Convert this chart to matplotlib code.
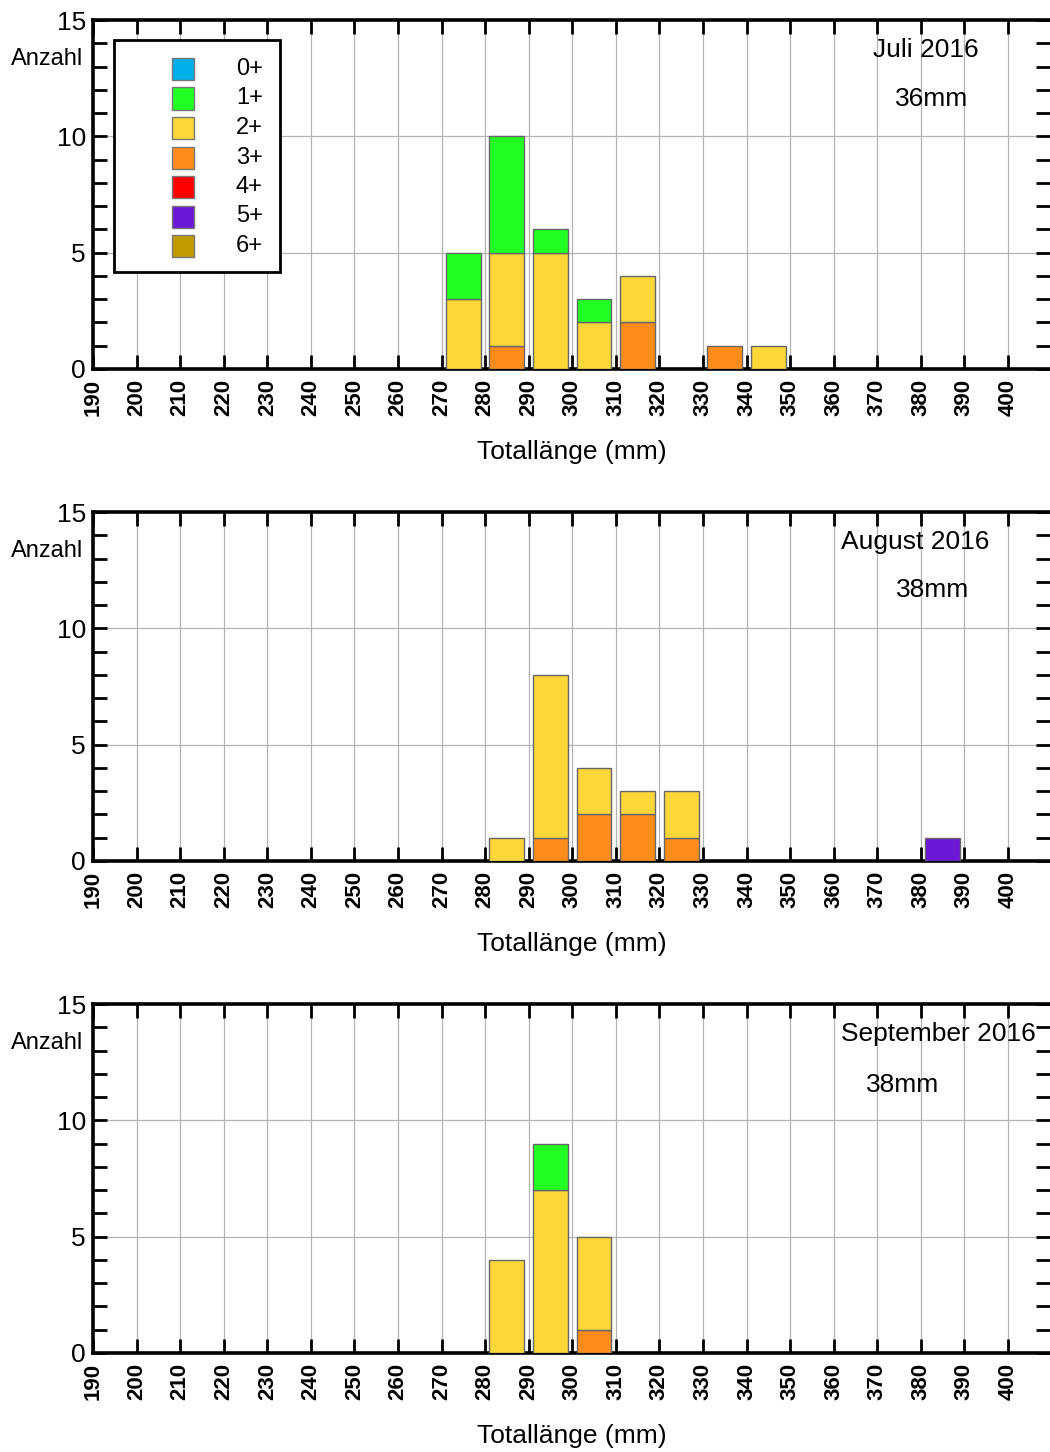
import matplotlib
matplotlib.use("Agg")
import matplotlib.pyplot as plt
from matplotlib.patches import Rectangle
import numpy as np

plt.rcParams['font.family'] = ['Liberation Sans', 'DejaVu Sans']

# Altersklassen und Farben
classes = ["0+", "1+", "2+", "3+", "4+", "5+", "6+"]
colors = ["#00aee8", "#22ff22", "#fdd73a", "#ff8c1a", "#ff0000", "#6a18d6", "#bf9a00"]

# Längenklassen (Klassenmitte, mm)
bins = [275, 285, 295, 305, 315, 325, 335, 345, 355, 365, 375, 385]

# Anzahl je Längenklasse und Altersklasse
juli = {
    "1+": [2, 5, 1, 1, 0, 0, 0, 0, 0, 0, 0, 0],
    "2+": [3, 4, 5, 2, 2, 0, 0, 1, 0, 0, 0, 0],
    "3+": [0, 1, 0, 0, 2, 0, 1, 0, 0, 0, 0, 0],
}
august = {
    "2+": [0, 1, 7, 2, 1, 2, 0, 0, 0, 0, 0, 0],
    "3+": [0, 0, 1, 2, 2, 1, 0, 0, 0, 0, 0, 0],
    "5+": [0, 0, 0, 0, 0, 0, 0, 0, 0, 0, 0, 1],
}
september = {
    "1+": [0, 0, 2, 0, 0, 0, 0, 0, 0, 0, 0, 0],
    "2+": [0, 4, 7, 4, 0, 0, 0, 0, 0, 0, 0, 0],
    "3+": [0, 0, 0, 1, 0, 0, 0, 0, 0, 0, 0, 0],
}

panels = [
    (juli, "Juli 2016", "36mm", (926, 50), (932, 99)),
    (august, "August 2016", "38mm", (915, 542), (933, 590)),
    (september, "September 2016", "38mm", (938, 1034), (903, 1085)),
]

W, H = 1050, 1452
fig = plt.figure(figsize=(W / 100, H / 100), dpi=100)

left_px, right_px = 93, 1050
ax_h = 349
tops = [20, 512, 1004]


def px2ax(ax_top, x, y):
    return (x - left_px) / (right_px - left_px), (ax_top + ax_h - y) / ax_h


for k, (data, month, mesh, mpos, spos) in enumerate(panels):
    top = tops[k]
    ax = fig.add_axes([left_px / W, (H - top - ax_h) / H,
                       (right_px - left_px) / W, ax_h / H])

    # gestapelte Balken, älteste Klasse unten
    bottom = np.zeros(len(bins))
    for cls, col in reversed(list(zip(classes, colors))):
        if cls not in data:
            continue
        vals = np.array(data[cls], dtype=float)
        mask = vals > 0
        ax.bar(np.array(bins)[mask], vals[mask], width=8, bottom=bottom[mask],
               color=col, edgecolor="#666666", linewidth=1, zorder=3)
        bottom += vals

    ax.set_xlim(190, 190 + (right_px - left_px) / 4.357)
    ax.set_ylim(0, 15)
    ax.set_xticks(np.arange(190, 401, 10))
    ax.set_xticklabels([str(v) for v in range(190, 401, 10)],
                       rotation=90, fontweight="bold", fontsize=16)
    ax.set_yticks([0, 5, 10, 15])
    ax.set_yticks(np.arange(0, 16, 1), minor=True)
    ax.tick_params(axis="y", labelsize=19, pad=5)
    ax.tick_params(axis="both", which="both", direction="in",
                   length=10, width=2, top=True, right=True)
    ax.tick_params(axis="x", which="major", pad=7)
    ax.grid(True, which="major", color="#b4b4b4", linewidth=0.9, zorder=0)
    ax.set_axisbelow(True)

    for side in ["left", "bottom", "top"]:
        ax.spines[side].set_linewidth(2.6)
    ax.spines["right"].set_visible(False)

    ax.set_xlabel("Totallänge (mm)", fontsize=19, labelpad=17)

    tx, ty = px2ax(top, 47, top + 39)
    ax.text(tx, ty, "Anzahl", transform=ax.transAxes, fontsize=17,
            ha="center", va="center")
    mx, my = px2ax(top, mpos[0], mpos[1])
    ax.text(mx, my, month, transform=ax.transAxes, fontsize=19,
            ha="center", va="center")
    sx, sy = px2ax(top, spos[0], spos[1])
    ax.text(sx, sy, mesh, transform=ax.transAxes, fontsize=19,
            ha="center", va="center")

    # Legende nur im ersten Panel
    if k == 0:
        x0, y0 = px2ax(top, 114, 272)
        x1, y1 = px2ax(top, 280, 40)
        ax.add_patch(Rectangle((x0, y0), x1 - x0, y1 - y0, transform=ax.transAxes,
                               facecolor="white", edgecolor="black",
                               linewidth=2, zorder=5))
        for i, (cls, col) in enumerate(zip(classes, colors)):
            yc = 69 + i * 29.5
            px0, py0 = px2ax(top, 172, yc + 11)
            px1, py1 = px2ax(top, 194, yc - 11)
            ax.add_patch(Rectangle((px0, py0), px1 - px0, py1 - py0,
                                   transform=ax.transAxes, facecolor=col,
                                   edgecolor="#777777", linewidth=1, zorder=6))
            lx, ly = px2ax(top, 236, yc)
            ax.text(lx, ly, cls, transform=ax.transAxes, fontsize=17,
                    ha="left", va="center", zorder=7)

fig.savefig("out.png", dpi=100)
